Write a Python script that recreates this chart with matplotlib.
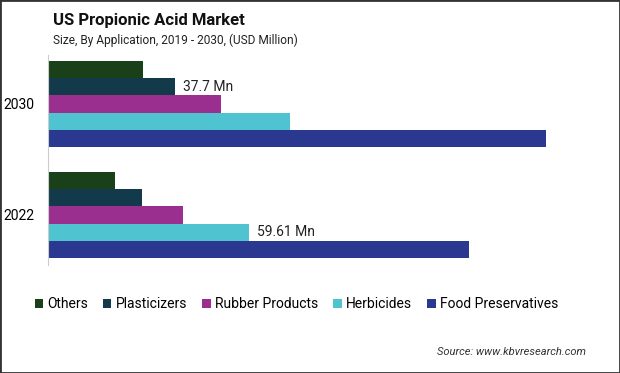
import numpy as np
import matplotlib.pyplot as plt
from matplotlib.patches import Rectangle

# Data (USD Million)
years = ["2022", "2030"]
categories = ["Others", "Plasticizers", "Rubber Products", "Herbicides", "Food Preservatives"]
others = [19.9, 28.2]
plasticizers = [27.9, 37.7]
rubber = [40.1, 51.3]
herbicides = [59.61, 71.8]
food = [125.2, 148.0]
colors = ["#1a4019", "#133a4a", "#9b2f8f", "#4fc3cf", "#2b388f"]

series = [others, plasticizers, rubber, herbicides, food]

plt.rcParams['font.family'] = ['Roboto', 'DejaVu Sans']

fig = plt.figure(figsize=(6.2, 3.73), dpi=100)
fig.patches.append(Rectangle((0, 0), 1, 1, transform=fig.transFigure,
                             fill=False, edgecolor="#333333", linewidth=2))

ax = fig.add_axes([48 / 620, 1 - 265 / 373, 552 / 620, 210 / 373])

h = 0.155
y = np.arange(len(years))
for i, (vals, name, c) in enumerate(zip(series, categories, colors)):
    off = (2 - i) * h
    ax.barh(y + off, vals, height=h, color=c, label=name)

# data labels
ax.text(plasticizers[1] + 2.4, 1 + h, "37.7 Mn", va="center", ha="left", fontsize=10, color="#222222")
ax.text(herbicides[0] + 2.4, 0 - h, "59.61 Mn", va="center", ha="left", fontsize=10, color="#222222")

ax.set_xlim(0, 164)
ax.set_ylim(-0.45, 1.44)
ax.set_yticks(y)
ax.set_yticklabels(years, fontsize=10)
ax.tick_params(axis="y", length=0, pad=10)
ax.set_xticks([])
for s in ["top", "right", "bottom"]:
    ax.spines[s].set_visible(False)
ax.spines["left"].set_color("#cccccc")

fig.text(53 / 620, 1 - 20 / 373, "US Propionic Acid Market", fontsize=12,
         fontweight="bold", va="center", ha="left", color="#111111")
fig.text(53 / 620, 1 - 40 / 373, "Size, By Application, 2019 - 2030, (USD Million)",
         fontsize=8.6, va="center", ha="left", color="#222222")

handles, labels = ax.get_legend_handles_labels()
fig.legend(handles, labels, loc="center left", bbox_to_anchor=(22 / 620, 1 - 304 / 373),
           ncol=5, frameon=False, fontsize=10, handlelength=0.6, handleheight=0.6,
           handletextpad=0.3, columnspacing=1.1)

fig.text(586 / 620, 1 - 352 / 373, "Source: www.kbvresearch.com", fontsize=8,
         style="italic", ha="right", va="center", color="#333333")

fig.savefig("out.png", dpi=100)
